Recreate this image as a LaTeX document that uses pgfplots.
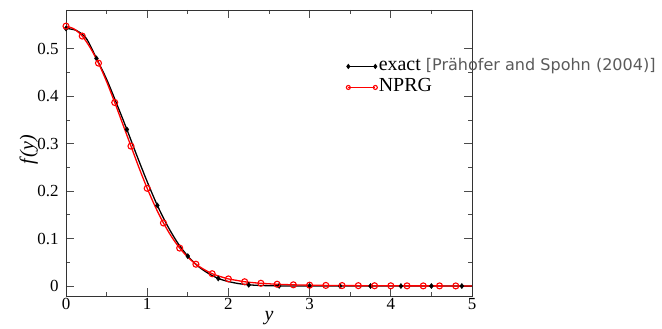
\documentclass[border=0pt]{standalone}
\usepackage{pgfplots}
\pgfplotsset{compat=1.18}
\usepackage{fontspec}
\setmainfont{Liberation Serif}
\newfontfamily\reffont{DejaVu Sans}
\definecolor{refgray}{RGB}{90,90,90}
\pgfplotsset{endmarks legend/.style={legend image code/.code={\draw[##1] plot coordinates {(0bp,0bp) (27bp,0bp)};}}}
\begin{document}
\begin{tikzpicture}
\begin{axis}[
  scale only axis, width=406bp, height=286bp,
  xmin=0, xmax=5, ymin=-0.021, ymax=0.582,
  xtick={0,1,2,3,4,5}, ytick={0,0.1,0.2,0.3,0.4,0.5},
  minor x tick num=1, minor y tick num=1,
  tick align=inside,
  major tick length=8bp, minor tick length=4bp,
  axis line style={line width=0.8bp, black!80},
  tick style={line width=0.8bp, black!70},
  /pgf/number format/assume math mode=true,
  tick label style={font=\fontsize{17}{17}\selectfont},
  yticklabel style={xshift=-4bp},
  xticklabel style={yshift=1bp},
  every axis y label/.style={at={(axis description cs:-0.092,0.51)},rotate=90,anchor=center},
  every axis x label/.style={at={(axis description cs:0.5,-0.077)},anchor=center},
  ylabel={\fontsize{20}{20}\selectfont\itshape f\kern2bp(y)},
  xlabel={\fontsize{20}{20}\selectfont\itshape y},
  legend style={at={(axis description cs:0.69,0.84)}, anchor=north west, draw=none, fill=none,
    inner sep=0pt, row sep=0bp, font=\fontsize{20}{21}\selectfont,
    nodes={inner sep=1.5bp, text height=13.5bp, text depth=4.5bp}},
  legend cell align=left,
]
% exact (black) line
\addplot[black, line width=1.3bp, smooth, forget plot] table {
x y
0 0.543
0.125 0.539
0.25 0.522
0.375 0.480
0.5 0.436
0.625 0.384
0.75 0.330
0.875 0.274
1.0 0.220
1.125 0.170
1.25 0.127
1.375 0.091
1.5 0.063
1.625 0.042
1.75 0.027
1.875 0.016
2.0 0.0095
2.125 0.0052
2.25 0.0026
2.375 0.0013
2.5 0.0007
2.625 0.0003
2.75 0.0002
3.0 0.0001
3.5 0.0
4.0 0.0
4.5 0.0
5.0 0.0
};
\addplot[black, only marks, mark=diamond*, mark size=2.6bp, forget plot] table {
x y
0 0.543
0.375 0.480
0.75 0.330
1.125 0.170
1.5 0.063
1.875 0.016
2.25 0.0026
2.625 0.0003
3.0 0.0001
3.375 0.0
3.75 0.0
4.125 0.0
4.5 0.0
4.875 0.0
};
% NPRG (red) line
\addplot[red, line width=1.3bp, smooth, forget plot] table {
x y
0 0.548
0.1 0.542
0.2 0.527
0.3 0.502
0.4 0.470
0.5 0.431
0.6 0.387
0.7 0.341
0.8 0.295
0.9 0.249
1.0 0.206
1.1 0.167
1.2 0.133
1.3 0.104
1.4 0.080
1.5 0.061
1.6 0.046
1.7 0.035
1.8 0.026
1.9 0.020
2.0 0.015
2.1 0.012
2.2 0.0090
2.3 0.0072
2.4 0.0058
2.5 0.0047
2.6 0.0038
2.7 0.0031
2.8 0.0026
2.9 0.0021
3.0 0.0018
3.2 0.0013
3.4 0.0010
3.6 0.0008
3.8 0.0006
4.0 0.0005
4.2 0.0004
4.4 0.0003
4.6 0.0003
4.8 0.0002
5.0 0.0002
};
\addplot[red, only marks, mark=o, mark size=3bp, mark options={line width=1.1bp}, forget plot] table {
x y
0 0.548
0.2 0.527
0.4 0.470
0.6 0.387
0.8 0.295
1.0 0.206
1.2 0.133
1.4 0.080
1.6 0.046
1.8 0.026
2.0 0.015
2.2 0.0090
2.4 0.0058
2.6 0.0038
2.8 0.0026
3.0 0.0018
3.2 0.0013
3.4 0.0010
3.6 0.0008
3.8 0.0006
4.0 0.0005
4.2 0.0004
4.4 0.0003
4.6 0.0003
4.8 0.0002
};
\addlegendimage{black, line width=0.9bp, mark=diamond*, mark size=2bp, endmarks legend}
\addlegendentry{exact {\reffont\fontsize{16.1}{16}\selectfont\color{refgray}[Prähofer and Spohn (2004)]}}
\addlegendimage{red, line width=1.1bp, mark=o, mark size=2bp, endmarks legend}
\addlegendentry{NPRG}
\end{axis}
\path (current axis.south west) ++(-66bp,-29bp) rectangle ++(662bp,325bp);
\end{tikzpicture}
\end{document}
